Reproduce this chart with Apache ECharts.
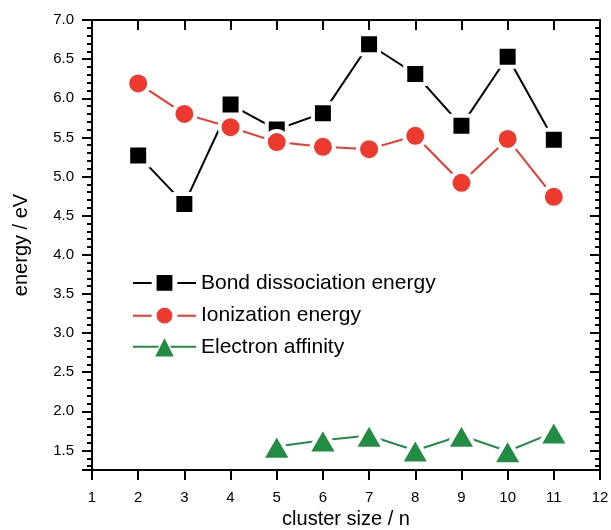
<!DOCTYPE html>
<html>
<head>
<meta charset="utf-8">
<script src="https://cdn.jsdelivr.net/npm/echarts@6/dist/echarts.min.js"></script>
<style>html,body{margin:0;padding:0;background:#fff;}#c{width:611px;height:530px;}</style>
</head>
<body>
<div id="c"></div>
<script>
var clusterSize = [2, 3, 4, 5, 6, 7, 8, 9, 10, 11];
var bondDissociation = [5.27, 4.65, 5.92, 5.60, 5.81, 6.69, 6.31, 5.65, 6.53, 5.47];
var ionization = [6.19, 5.80, 5.63, 5.44, 5.38, 5.35, 5.52, 4.92, 5.48, 4.74];
var eaSize = [5, 6, 7, 8, 9, 10, 11];
var electronAffinity = [1.55, 1.63, 1.69, 1.50, 1.69, 1.49, 1.73];
var seriesNames = ['Bond dissociation energy', 'Ionization energy', 'Electron affinity'];
var xAxisTitle = 'cluster size / n';
var yAxisTitle = 'energy / eV';

function pairs(xs, ys) { return xs.map(function (x, i) { return [x, ys[i]]; }); }

var FONT = 'Liberation Sans, Arial, sans-serif';
var chart = echarts.init(document.getElementById('c'), null, { renderer: 'canvas' });
var axisLine = { show: true, lineStyle: { color: '#000', width: 2 } };
var yLabelFmt = function (v) {
  return Math.abs(v * 2 - Math.round(v * 2)) < 1e-6 ? v.toFixed(1) : '';
};
chart.setOption({
  animation: false,
  backgroundColor: '#fff',
  grid: { left: 92, right: 11, top: 20, bottom: 60, containLabel: false, outerBoundsMode: 'none' },
  legend: {
    left: 127, top: 265, orient: 'vertical',
    itemWidth: 63, itemHeight: 26, itemGap: 7,
    textStyle: { fontFamily: FONT, fontSize: 21, color: '#000' },
    itemStyle: { borderColor: '#fff', borderWidth: 5 },
    data: [
      { name: seriesNames[0] },
      { name: seriesNames[1] },
      { name: seriesNames[2], itemStyle: { borderColor: '#fff', borderWidth: 1.5 } }
    ]
  },
  xAxis: [{
    type: 'value', min: 1, max: 12, interval: 1, position: 'bottom',
    name: xAxisTitle, nameLocation: 'middle', nameGap: 39,
    nameTextStyle: { fontFamily: FONT, fontSize: 20, color: '#000' },
    axisLine: axisLine,
    axisTick: { show: true, inside: false, length: 10, lineStyle: { color: '#000', width: 2 } },
    axisLabel: { fontFamily: FONT, fontSize: 15, color: '#000', margin: 20 },
    splitLine: { show: false }
  }, {
    type: 'value', min: 1, max: 12, interval: 1, position: 'top',
    axisLine: axisLine,
    axisTick: { show: true, inside: true, length: 10, lineStyle: { color: '#000', width: 2 } },
    axisLabel: { show: false },
    splitLine: { show: false }
  }],
  yAxis: [{
    type: 'value', min: 1.25, max: 7.0, splitNumber: 11, position: 'left',
    name: yAxisTitle, nameLocation: 'middle', nameGap: 61,
    nameTextStyle: { fontFamily: FONT, fontSize: 20, color: '#000' },
    axisLine: axisLine,
    axisTick: { show: true, inside: false, length: 10, lineStyle: { color: '#000', width: 2 } },
    minorTick: { show: true, splitNumber: 5, length: 5, lineStyle: { color: '#000', width: 2 } },
    axisLabel: { fontFamily: FONT, fontSize: 15, color: '#000', margin: 18, formatter: yLabelFmt },
    splitLine: { show: false }
  }, {
    type: 'value', min: 1.25, max: 7.0, splitNumber: 11, position: 'right',
    axisLine: axisLine,
    axisTick: { show: true, inside: true, length: 10, lineStyle: { color: '#000', width: 2 } },
    minorTick: { show: true, splitNumber: 5, length: 5, lineStyle: { color: '#000', width: 2 } },
    axisLabel: { show: false },
    splitLine: { show: false }
  }],
  series: [{
    name: seriesNames[0], type: 'line', xAxisIndex: 0, yAxisIndex: 0,
    data: pairs(clusterSize, bondDissociation),
    symbol: 'rect', symbolSize: 20, showAllSymbol: true,
    lineStyle: { color: '#000', width: 2 },
    itemStyle: { color: '#000', borderColor: '#fff', borderWidth: 4 }
  }, {
    name: seriesNames[1], type: 'line', xAxisIndex: 0, yAxisIndex: 0,
    data: pairs(clusterSize, ionization),
    symbol: 'circle', symbolSize: 22, showAllSymbol: true,
    lineStyle: { color: '#ee3a2e', width: 2 },
    itemStyle: { color: '#ee3a2e', borderColor: '#fff', borderWidth: 4 }
  }, {
    name: seriesNames[2], type: 'line', xAxisIndex: 0, yAxisIndex: 0,
    data: pairs(eaSize, electronAffinity),
    symbol: 'triangle', symbolSize: [30, 26], showAllSymbol: true,
    lineStyle: { color: '#228b44', width: 2 },
    itemStyle: { color: '#228b44', borderColor: '#fff', borderWidth: 4 }
  }]
});
</script>
</body>
</html>
